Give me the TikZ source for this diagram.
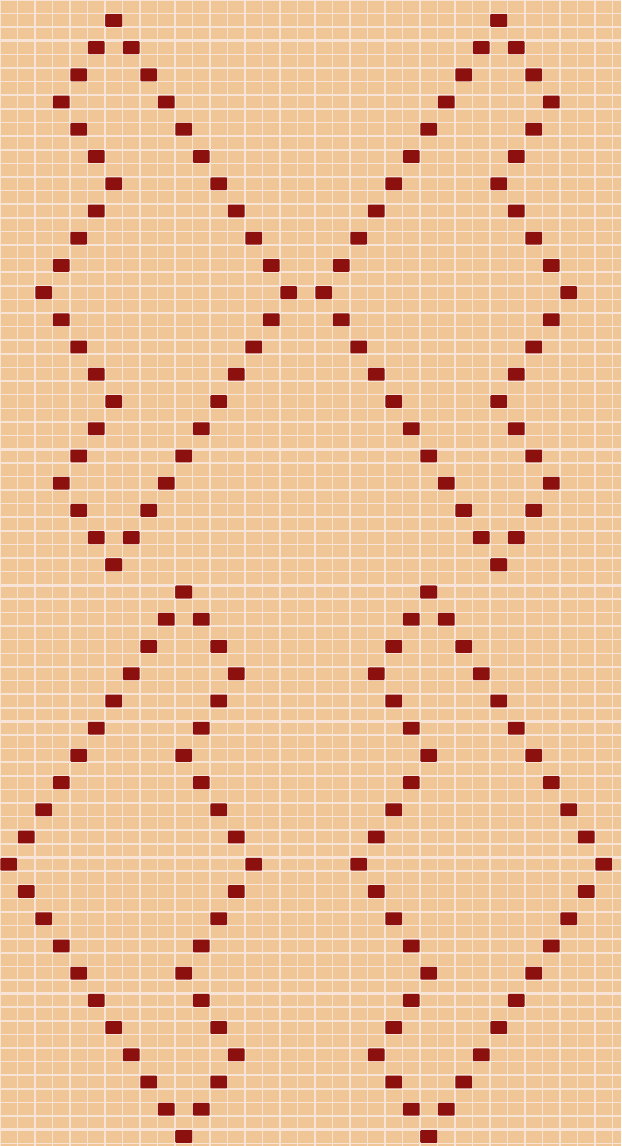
\documentclass[tikz,border=0pt]{standalone}

\definecolor{chartbg}{RGB}{241,198,150}
\definecolor{gridline}{RGB}{248,228,214}
\definecolor{stitch}{RGB}{140,16,14}

% one filled chart cell (column, row)
\newcommand{\stitchat}[2]{%
  \fill[stitch, rounded corners=0.6pt] (#1+0.02, #2+0.03) rectangle (#1+0.98, #2+0.97);}

\begin{document}
\begin{tikzpicture}[x=0.35cm, y=-0.2722cm]

% Canvas: 35.5 columns x 84.2 rows
\useasboundingbox (0,0) rectangle (35.486,84.2);
\fill[chartbg] (0,0) rectangle (35.486,84.2);

% Thin grid
\foreach \cx in {0,...,35}
  \draw[gridline, line width=0.9pt] (\cx,0) -- (\cx,84.2);
\foreach \ry in {0,...,84}
  \draw[gridline, line width=0.9pt] (0,\ry) -- (35.486,\ry);

% Heavy grid (every 6 columns, every 10 rows)
\foreach \cx in {6,12,...,30}
  \draw[gridline, line width=1.6pt] (\cx,0) -- (\cx,84.2);
\foreach \ry in {3,13,...,83}
  \draw[gridline, line width=1.6pt] (0,\ry) -- (35.486,\ry);

% Upper pair (rows 1..41): zigzag edge + long diagonal, right one mirrored
\foreach \zz [count=\i from 0] in {6,5,4,3,4,5,6,5,4,3,2,3,4,5,6,5,4,3,4,5,6} {
  \pgfmathtruncatemacro{\rr}{1+2*\i}
  \pgfmathtruncatemacro{\dd}{16-abs(\i-10)}
  \stitchat{\zz}{\rr}
  \stitchat{\dd}{\rr}
  \stitchat{34-\zz}{\rr}
  \stitchat{34-\dd}{\rr}
}

% Lower pair (rows 43..83)
\foreach \zz [count=\i from 0] in {10,11,12,13,12,11,10,11,12,13,14,13,12,11,10,11,12,13,12,11,10} {
  \pgfmathtruncatemacro{\rr}{43+2*\i}
  \pgfmathtruncatemacro{\dd}{abs(\i-10)}
  \stitchat{\zz}{\rr}
  \stitchat{\dd}{\rr}
  \stitchat{34-\zz}{\rr}
  \stitchat{34-\dd}{\rr}
}

\end{tikzpicture}
\end{document}
